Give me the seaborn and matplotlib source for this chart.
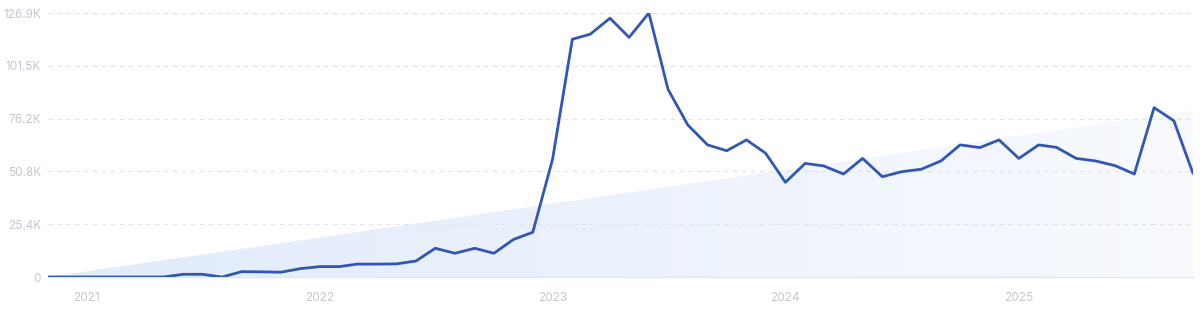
import numpy as np
import pandas as pd
import matplotlib
matplotlib.use("Agg")
import matplotlib.pyplot as plt
import matplotlib.dates as mdates
from matplotlib.colors import LinearSegmentedColormap
import seaborn as sns

# ---- data ----
start_month = "2020-11-01"
values = [0, 0, 0, 0, 0, 0, 0, 1300, 1300, 0,
          2600, 2500, 2300, 4000, 5000, 5000, 6200, 6200, 6300, 7700,
          13800, 11400, 13800, 11400, 18100, 21500, 56600, 114300, 116700, 124400,
          115200, 126900, 90200, 73100, 63500, 60700, 65900, 59500, 45500, 54600,
          53400, 49500, 57000, 48200, 50600, 51800, 55800, 63500, 62200, 65900,
          57000, 63500, 62300, 57000, 55800, 53500, 49500, 81400, 75100, 49800]
trend_values = [0, 80000]
ytick_values = [0, 25380, 50760, 76140, 101520, 126900]
ytick_labels = ["0", "25.4K", "50.8K", "76.2K", "101.5K", "126.9K"]
xtick_years = ["2021", "2022", "2023", "2024", "2025"]

dates = pd.date_range(start_month, periods=len(values), freq="MS")
df = pd.DataFrame({"date": dates, "value": values})

sns.set_theme(style="white")
plt.rcParams["font.family"] = ["Inter", "DejaVu Sans"]

fig = plt.figure(figsize=(12, 3.14), dpi=100)
ax = fig.add_axes([48 / 1200, 37 / 314, (1193 - 48) / 1200, (277 - 13) / 314])

# gradient trend fill
tx = mdates.date2num([dates[0], dates[-1]])
poly = ax.fill_between([dates[0], dates[-1]], [0, 0], trend_values,
                       facecolor="none", edgecolor="none")
cmap = LinearSegmentedColormap.from_list("g", ["#e1ebfb", "#ecf2fc", "#f8fafe"])
grad = np.linspace(0, 1, 256).reshape(1, -1)
im = ax.imshow(grad, extent=[tx[0], tx[1], 0, max(trend_values)], aspect="auto",
               cmap=cmap, origin="lower", zorder=1)
path = poly.get_paths()[0]
im.set_clip_path(path, transform=ax.transData)

sns.lineplot(data=df, x="date", y="value", ax=ax, color="#3157b4",
             linewidth=2.0, zorder=3)

ax.set_xlim(dates[0], dates[-1])
ax.set_ylim(0, 126900)
ax.set_yticks(ytick_values)
ax.set_yticklabels(ytick_labels)
ax.set_xticks([pd.Timestamp(f"{y}-01-01") for y in xtick_years])
ax.set_xticklabels(xtick_years)
ax.tick_params(axis="both", length=0, labelsize=8.5, colors="#c3c7ce")
ax.tick_params(axis="y", pad=5)
ax.tick_params(axis="x", pad=11)

for v in ytick_values[1:]:
    ax.axhline(v, color="#e0e3e8", linestyle=(0, (4, 4)), linewidth=0.8, zorder=2)

for s in ["top", "right", "left"]:
    ax.spines[s].set_visible(False)
ax.spines["bottom"].set_color("#e2e8f2")
ax.spines["bottom"].set_linewidth(1.0)
ax.set_xlabel("")
ax.set_ylabel("")
ax.grid(False)

fig.savefig("out.png", dpi=100, facecolor="white")
